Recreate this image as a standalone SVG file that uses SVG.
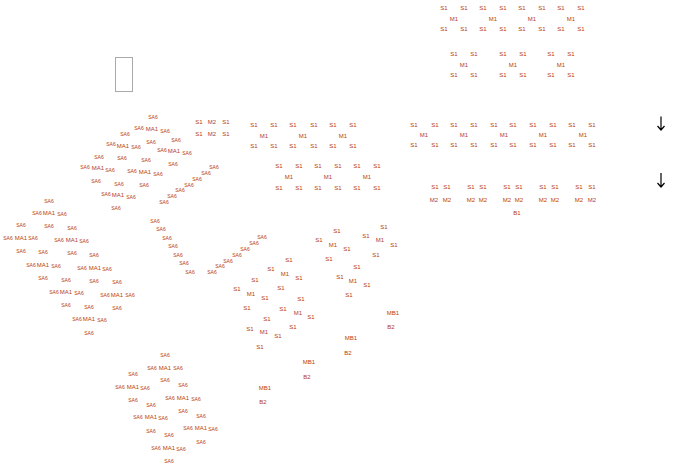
<svg xmlns="http://www.w3.org/2000/svg" width="677" height="467" viewBox="0 0 677 467">
<style>
text{font-family:"Liberation Sans",Arial,sans-serif;fill:#b83c14;text-anchor:middle;dominant-baseline:central}
.l{font-size:6px}
.s{font-size:5px}
.arr{fill:none;stroke:#000;stroke-width:1.2}
</style>
<rect width="677" height="467" fill="#fff"/>
<rect id="box" x="115.5" y="57.5" width="17" height="34" fill="none" stroke="#aaa" stroke-width="1"/>
<g id="top1" class="l">
<text x="444" y="8">S1</text><text x="464" y="8">S1</text><text x="483" y="8">S1</text><text x="503" y="8">S1</text><text x="522" y="8">S1</text><text x="542" y="8">S1</text><text x="561" y="8">S1</text><text x="581" y="8">S1</text>
<text x="454" y="19">M1</text><text x="493" y="19">M1</text><text x="532" y="19">M1</text><text x="571" y="19">M1</text>
<text x="444" y="29">S1</text><text x="464" y="29">S1</text><text x="483" y="29">S1</text><text x="503" y="29">S1</text><text x="522" y="29">S1</text><text x="542" y="29">S1</text><text x="561" y="29">S1</text><text x="581" y="29">S1</text>
</g>
<g id="top2" class="l">
<text x="454" y="54">S1</text><text x="474" y="54">S1</text><text x="503" y="54">S1</text><text x="523" y="54">S1</text><text x="551" y="54">S1</text><text x="571" y="54">S1</text>
<text x="464" y="65">M1</text><text x="513" y="65">M1</text><text x="561" y="65">M1</text>
<text x="454" y="75">S1</text><text x="474" y="75">S1</text><text x="503" y="75">S1</text><text x="523" y="75">S1</text><text x="551" y="75">S1</text><text x="571" y="75">S1</text>
</g>
<g id="mid1" class="l">
<text x="254" y="125">S1</text><text x="274" y="125">S1</text><text x="293" y="125">S1</text><text x="314" y="125">S1</text><text x="333" y="125">S1</text><text x="353" y="125">S1</text>
<text x="264" y="136">M1</text><text x="303" y="136">M1</text><text x="343" y="136">M1</text>
<text x="254" y="146">S1</text><text x="274" y="146">S1</text><text x="293" y="146">S1</text><text x="314" y="146">S1</text><text x="333" y="146">S1</text><text x="353" y="146">S1</text>
</g>
<g id="mid2" class="l">
<text x="279" y="166">S1</text><text x="299" y="166">S1</text><text x="318" y="166">S1</text><text x="338" y="166">S1</text><text x="357" y="166">S1</text><text x="377" y="166">S1</text>
<text x="289" y="177">M1</text><text x="328" y="177">M1</text><text x="367" y="177">M1</text>
<text x="279" y="188">S1</text><text x="299" y="188">S1</text><text x="318" y="188">S1</text><text x="338" y="188">S1</text><text x="357" y="188">S1</text><text x="377" y="188">S1</text>
</g>
<g id="right1" class="l">
<text x="414" y="125">S1</text><text x="435" y="125">S1</text><text x="454" y="125">S1</text><text x="474" y="125">S1</text><text x="494" y="125">S1</text><text x="513" y="125">S1</text><text x="533" y="125">S1</text><text x="553" y="125">S1</text><text x="572" y="125">S1</text><text x="592" y="125">S1</text>
<text x="424" y="135">M1</text><text x="464" y="135">M1</text><text x="504" y="135">M1</text><text x="543" y="135">M1</text><text x="583" y="135">M1</text>
<text x="414" y="145">S1</text><text x="435" y="145">S1</text><text x="454" y="145">S1</text><text x="474" y="145">S1</text><text x="494" y="145">S1</text><text x="513" y="145">S1</text><text x="533" y="145">S1</text><text x="553" y="145">S1</text><text x="572" y="145">S1</text><text x="592" y="145">S1</text>
</g>
<g id="right2" class="l">
<text x="435" y="187">S1</text><text x="447" y="187">S1</text><text x="471" y="187">S1</text><text x="483" y="187">S1</text><text x="507" y="187">S1</text><text x="519" y="187">S1</text><text x="543" y="187">S1</text><text x="555" y="187">S1</text><text x="579" y="187">S1</text><text x="592" y="187">S1</text>
<text x="434" y="200">M2</text><text x="447" y="200">M2</text><text x="471" y="200">M2</text><text x="483" y="200">M2</text><text x="507" y="200">M2</text><text x="519" y="200">M2</text><text x="543" y="200">M2</text><text x="555" y="200">M2</text><text x="579" y="200">M2</text><text x="592" y="200">M2</text>
<text x="517" y="213">B1</text>
</g>
<g id="arrows" class="arr">
<path d="M661 116.5V130M657.5 126L661 130L664.5 126"/>
<path d="M661 173V187M657.5 183L661 187L664.5 183"/>
</g>
<g id="sm2" class="l">
<text x="199" y="122">S1</text><text x="212" y="122">M2</text><text x="226" y="122">S1</text>
<text x="199" y="134">S1</text><text x="212" y="134">M2</text><text x="226" y="134">S1</text>
</g>
<g id="sa-upper">
<text class="s" x="153" y="117">SA6</text>
<text class="s" x="139" y="128">SA6</text><text class="l" x="152" y="129">MA1</text><text class="s" x="165" y="131">SA6</text>
<text class="s" x="125" y="134">SA6</text>
<text class="s" x="111" y="144">SA6</text><text class="l" x="123" y="146">MA1</text><text class="s" x="136" y="147">SA6</text>
<text class="s" x="151" y="142">SA6</text>
<text class="s" x="176" y="140">SA6</text>
<text class="s" x="162" y="150">SA6</text><text class="l" x="174" y="151">MA1</text><text class="s" x="187" y="153">SA6</text>
<text class="s" x="99" y="157">SA6</text><text class="s" x="122" y="158">SA6</text><text class="s" x="146" y="160">SA6</text>
<text class="s" x="173" y="164">SA6</text>
<text class="s" x="85" y="167">SA6</text><text class="l" x="98" y="168">MA1</text><text class="s" x="110" y="170">SA6</text>
<text class="s" x="214" y="167">SA6</text>
<text class="s" x="132" y="171">SA6</text><text class="l" x="145" y="172">MA1</text><text class="s" x="158" y="174">SA6</text>
<text class="s" x="206" y="173">SA6</text>
<text class="s" x="96" y="181">SA6</text>
<text class="s" x="197" y="179">SA6</text>
<text class="s" x="119" y="184">SA6</text><text class="s" x="144" y="185">SA6</text>
<text class="s" x="189" y="185">SA6</text>
<text class="s" x="180" y="190">SA6</text>
<text class="s" x="106" y="194">SA6</text><text class="l" x="118" y="195">MA1</text><text class="s" x="131" y="197">SA6</text>
<text class="s" x="172" y="196">SA6</text>
<text class="s" x="164" y="202">SA6</text>
<text class="s" x="116" y="208">SA6</text>
</g>
<g id="sa-left">
<text class="s" x="49" y="201">SA6</text>
<text class="s" x="37" y="213">SA6</text><text class="l" x="49" y="213">MA1</text><text class="s" x="62" y="214">SA6</text>
<text class="s" x="21" y="225">SA6</text><text class="s" x="49" y="226">SA6</text><text class="s" x="72" y="228">SA6</text>
<text class="s" x="8" y="238">SA6</text><text class="l" x="21" y="238">MA1</text><text class="s" x="33" y="238">SA6</text>
<text class="s" x="59" y="240">SA6</text><text class="l" x="72" y="240">MA1</text><text class="s" x="84" y="241">SA6</text>
<text class="s" x="21" y="251">SA6</text><text class="s" x="43" y="252">SA6</text><text class="s" x="72" y="253">SA6</text><text class="s" x="94" y="255">SA6</text>
<text class="s" x="31" y="265">SA6</text><text class="l" x="43" y="265">MA1</text><text class="s" x="56" y="266">SA6</text>
<text class="s" x="82" y="268">SA6</text><text class="l" x="95" y="268">MA1</text><text class="s" x="107" y="269">SA6</text>
<text class="s" x="43" y="278">SA6</text><text class="s" x="66" y="280">SA6</text><text class="s" x="94" y="281">SA6</text><text class="s" x="117" y="282">SA6</text>
<text class="s" x="54" y="292">SA6</text><text class="l" x="66" y="292">MA1</text><text class="s" x="79" y="293">SA6</text>
<text class="s" x="105" y="295">SA6</text><text class="l" x="117" y="295">MA1</text><text class="s" x="130" y="295">SA6</text>
<text class="s" x="66" y="305">SA6</text><text class="s" x="89" y="307">SA6</text><text class="s" x="117" y="308">SA6</text>
<text class="s" x="77" y="319">SA6</text><text class="l" x="89" y="319">MA1</text><text class="s" x="102" y="320">SA6</text>
<text class="s" x="89" y="333">SA6</text>
</g>
<g id="sa-vee" class="s">
<text x="155" y="221">SA6</text><text x="161" y="229">SA6</text><text x="167" y="238">SA6</text><text x="173" y="246">SA6</text><text x="178" y="255">SA6</text><text x="184" y="263">SA6</text><text x="190" y="272">SA6</text>
<text x="212" y="272">SA6</text><text x="220" y="266">SA6</text><text x="228" y="261">SA6</text><text x="237" y="255">SA6</text><text x="245" y="249">SA6</text><text x="254" y="243">SA6</text><text x="262" y="237">SA6</text>
</g>
<g id="s-cluster" class="l">
<text x="337" y="231">S1</text><text x="384" y="227">S1</text>
<text x="319" y="240">S1</text><text x="333" y="245">M1</text><text x="347" y="249">S1</text>
<text x="366" y="236">S1</text><text x="380" y="240">M1</text><text x="394" y="245">S1</text>
<text x="376" y="255">S1</text><text x="329" y="259">S1</text><text x="357" y="267">S1</text>
<text x="289" y="260">S1</text>
<text x="271" y="269">S1</text><text x="285" y="274">M1</text><text x="299" y="278">S1</text>
<text x="255" y="280">S1</text>
<text x="340" y="277">S1</text><text x="353" y="281">M1</text><text x="367" y="285">S1</text>
<text x="237" y="289">S1</text><text x="251" y="294">M1</text><text x="265" y="298">S1</text>
<text x="281" y="288">S1</text><text x="301" y="299">S1</text><text x="349" y="295">S1</text>
<text x="247" y="308">S1</text>
<text x="283" y="309">S1</text><text x="298" y="313">M1</text><text x="311" y="317">S1</text>
<text x="267" y="319">S1</text>
<text x="250" y="329">S1</text><text x="264" y="332">M1</text><text x="278" y="336">S1</text>
<text x="293" y="327">S1</text>
<text x="260" y="347">S1</text>
</g>
<g id="mb" class="l">
<text x="393" y="313">MB1</text><text x="391" y="327">B2</text>
<text x="351" y="338">MB1</text><text x="348" y="353">B2</text>
<text x="309" y="362">MB1</text><text x="307" y="377">B2</text>
<text x="265" y="388">MB1</text><text x="263" y="402">B2</text>
</g>
<g id="sa-lower">
<text class="s" x="165" y="355">SA6</text>
<text class="s" x="152" y="368">SA6</text><text class="l" x="165" y="368">MA1</text><text class="s" x="178" y="368">SA6</text>
<text class="s" x="133" y="374">SA6</text>
<text class="s" x="165" y="380">SA6</text>
<text class="s" x="183" y="385">SA6</text>
<text class="s" x="120" y="387">SA6</text><text class="l" x="133" y="387">MA1</text><text class="s" x="145" y="388">SA6</text>
<text class="s" x="133" y="400">SA6</text>
<text class="s" x="170" y="398">SA6</text><text class="l" x="183" y="398">MA1</text><text class="s" x="196" y="399">SA6</text>
<text class="s" x="151" y="405">SA6</text>
<text class="s" x="183" y="411">SA6</text>
<text class="s" x="201" y="416">SA6</text>
<text class="s" x="138" y="417">SA6</text><text class="l" x="151" y="417">MA1</text><text class="s" x="163" y="418">SA6</text>
<text class="s" x="188" y="428">SA6</text><text class="l" x="201" y="428">MA1</text><text class="s" x="213" y="429">SA6</text>
<text class="s" x="151" y="431">SA6</text>
<text class="s" x="169" y="435">SA6</text>
<text class="s" x="201" y="442">SA6</text>
<text class="s" x="156" y="448">SA6</text><text class="l" x="169" y="448">MA1</text><text class="s" x="181" y="449">SA6</text>
<text class="s" x="169" y="461">SA6</text>
</g>
</svg>
